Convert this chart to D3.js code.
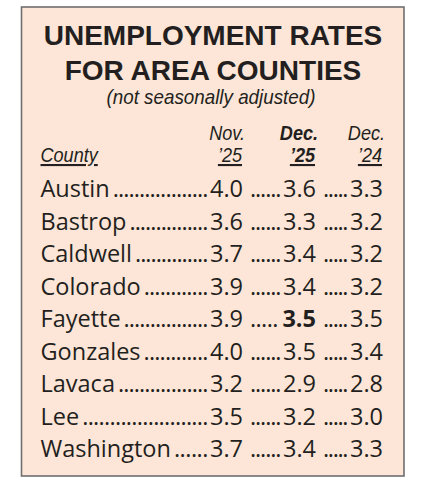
<!DOCTYPE html>
<html>
<head>
<meta charset="utf-8">
<script src="https://cdn.jsdelivr.net/npm/d3@7"></script>
<style>
  body { margin: 0; background: #fff; }
  svg { display: block; }
</style>
</head>
<body>
<div id="chart"></div>
<script>
(() => {
  const titleLines = ["UNEMPLOYMENT RATES", "FOR AREA COUNTIES"];
  const subtitle = "(not seasonally adjusted)";
  const rowHeader = "County";
  const colMonths = ["Nov.", "Dec.", "Dec."];
  const colYears = ["’25", "’25", "’24"];
  const counties = [
    "Austin", "Bastrop", "Caldwell", "Colorado", "Fayette",
    "Gonzales", "Lavaca", "Lee", "Washington",
  ];
  const nov25 = [4.0, 3.6, 3.7, 3.9, 3.9, 4.0, 3.2, 3.5, 3.7];
  const dec25 = [3.6, 3.3, 3.4, 3.4, 3.5, 3.5, 2.9, 3.2, 3.4];
  const dec24 = [3.3, 3.2, 3.2, 3.2, 3.5, 3.4, 2.8, 3.0, 3.3];
  const series = [nov25, dec25, dec24];
  const boldCol = 1;
  const boldCounty = "Fayette";

  const width = 425, height = 480;
  const format = d3.format(".1f");
  const ink = "#231f20";
  const body = "'Open Sans', sans-serif";
  const head = "'Liberation Sans', Arial, sans-serif";

  const svg = d3
    .select("#chart")
    .append("svg")
    .attr("width", width)
    .attr("height", height);

  svg
    .append("rect")
    .attr("x", 21.5)
    .attr("y", 7)
    .attr("width", 382.5)
    .attr("height", 469)
    .attr("fill", "#fde6d7")
    .attr("stroke", "#6f6f6f")
    .attr("stroke-width", 1.6);

  const cx = 213;

  // squeeze italic header text to look like a condensed face
  function condense(sel, k) {
    sel.each(function () {
      const len = this.getComputedTextLength();
      d3.select(this)
        .attr("textLength", len * k)
        .attr("lengthAdjust", "spacingAndGlyphs");
    });
  }

  svg
    .selectAll("text.title")
    .data(titleLines)
    .enter()
    .append("text")
    .attr("class", "title")
    .attr("x", cx)
    .attr("y", (d, i) => 45 + i * 35)
    .attr("text-anchor", "middle")
    .style("font-family", head)
    .style("font-weight", "bold")
    .style("font-size", "28px")
    .style("fill", ink)
    .text((d) => d);

  svg
    .append("text")
    .attr("x", cx - 2)
    .attr("y", 104)
    .attr("text-anchor", "middle")
    .style("font-family", head)
    .style("font-style", "italic")
    .style("font-size", "21px")
    .style("fill", ink)
    .text(subtitle)
    .call(condense, 0.895);

  // row and column positions
  const y = d3.scalePoint().domain(counties).range([197, 457]);
  const x = d3.scaleOrdinal().domain([0, 1, 2]).range([243, 316, 383]);
  const nameX = 40.5;

  // column headers
  const cols = svg
    .selectAll("g.col")
    .data(colMonths)
    .enter()
    .append("g")
    .attr("class", "col")
    .style("font-family", head)
    .style("font-style", "italic")
    .style("font-size", "21px")
    .style("font-weight", (d, i) => (i === boldCol ? "bold" : "normal"))
    .style("fill", ink);

  cols
    .append("text")
    .attr("x", (d, i) => x(i) + 2)
    .attr("y", 140)
    .attr("text-anchor", "end")
    .text((d) => d)
    .call(condense, 0.86);

  cols
    .append("text")
    .attr("x", (d, i) => x(i) - 1)
    .attr("y", 162)
    .attr("text-anchor", "end")
    .style("text-decoration", "underline")
    .text((d, i) => colYears[i])
    .call(condense, 0.86);

  svg
    .append("text")
    .attr("x", nameX)
    .attr("y", 162)
    .style("font-family", head)
    .style("font-style", "italic")
    .style("font-size", "21px")
    .style("text-decoration", "underline")
    .style("fill", ink)
    .text(rowHeader)
    .call(condense, 0.86);

  // body rows
  const rows = svg
    .selectAll("g.row")
    .data(counties)
    .enter()
    .append("g")
    .attr("class", "row")
    .attr("transform", (d) => `translate(0,${y(d)})`)
    .style("font-family", body)
    .style("font-size", "23.5px")
    .style("fill", ink);

  rows.each(function (county, r) {
    const g = d3.select(this);
    const name = g.append("text").attr("x", nameX).text(county);
    let prevEnd = nameX + name.node().getComputedTextLength() + 3;

    series.forEach((vals, c) => {
      const bold = c === boldCol && county === boldCounty;
      const num = g
        .append("text")
        .attr("x", x(c))
        .attr("text-anchor", "end")
        .style("font-weight", bold ? "bold" : "normal")
        .text(format(vals[r]));
      const numStart = x(c) - num.node().getComputedTextLength();
      const leaderEnd = numStart - (bold ? 4 : 1.5);
      const span = leaderEnd - prevEnd;
      const n = Math.max(1, Math.round(span / 5.4));
      g.append("text")
        .attr("x", prevEnd)
        .attr("textLength", span)
        .attr("lengthAdjust", "spacing")
        .text(".".repeat(n));
      prevEnd = x(c) + 7;
    });
  });
})();
</script>
</body>
</html>
